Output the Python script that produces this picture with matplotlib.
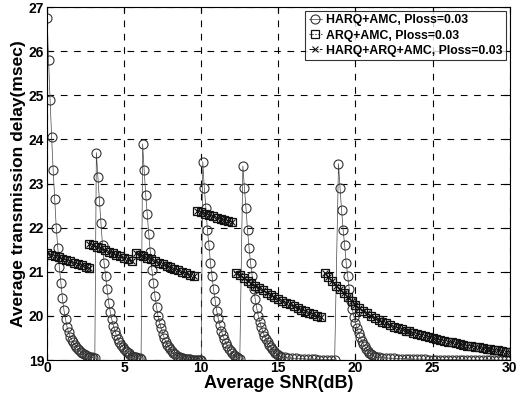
import numpy as np
import matplotlib
matplotlib.use("Agg")
import matplotlib.pyplot as plt

plt.rcParams["font.family"] = ["Liberation Sans", "DejaVu Sans"]

# HARQ+AMC: (start SNR, SNR step, delay values)
harq_segments = [
    (0.0, 0.1, [26.75, 25.8, 24.9, 24.05, 23.3, 22.65, 22.0, 21.55, 21.1, 20.75,
                20.4, 20.13, 19.93, 19.75, 19.63, 19.53, 19.46, 19.4, 19.35, 19.3,
                19.26, 19.22, 19.19, 19.16, 19.14, 19.12, 19.1, 19.08, 19.07, 19.06,
                19.05, 19.04]),
    (3.2, 0.1, [23.7, 23.15, 22.6, 22.1, 21.6, 21.2, 20.9, 20.6, 20.3, 20.1,
                19.92, 19.78, 19.66, 19.56, 19.48, 19.41, 19.35, 19.3, 19.25, 19.21,
                19.18, 19.15, 19.12, 19.1, 19.08, 19.07, 19.06, 19.05, 19.04, 19.03]),
    (6.2, 0.1, [23.9, 23.3, 22.75, 22.3, 21.85, 21.45, 21.05, 20.75, 20.45, 20.2,
                20.0, 19.85, 19.72, 19.6, 19.5, 19.42, 19.35, 19.29, 19.24, 19.2,
                19.16, 19.13, 19.1, 19.08, 19.06, 19.05, 19.04, 19.03, 19.03, 19.02,
                19.02, 19.02, 19.01, 19.01, 19.01, 19.01, 19.0, 19.0, 19.0]),
    (10.1, 0.1, [23.5, 22.9, 22.45, 21.95, 21.6, 21.2, 20.9, 20.6, 20.35, 20.12,
                 19.95, 19.8, 19.67, 19.56, 19.47, 19.39, 19.32, 19.26, 19.21, 19.16,
                 19.12, 19.09, 19.06, 19.04, 19.02]),
    (12.7, 0.1, [23.4, 22.9, 22.45, 21.95, 21.55, 21.2, 20.9, 20.62, 20.38, 20.17,
                 20.0, 19.86, 19.74, 19.64, 19.55, 19.47, 19.4, 19.34, 19.29, 19.24,
                 19.2, 19.17, 19.14, 19.11, 19.09, 19.07]),
    (15.4, 0.25, [19.06, 19.05, 19.04, 19.04, 19.03, 19.03, 19.02, 19.02, 19.02, 19.01,
                  19.01, 19.01, 19.01, 19.01]),
    (18.9, 0.1, [23.45, 22.9, 22.4, 21.95, 21.6, 21.2, 20.9, 20.6, 20.35, 20.15,
                 19.98, 19.84, 19.72, 19.61, 19.52, 19.44, 19.37, 19.31, 19.26, 19.21,
                 19.17, 19.14, 19.11, 19.09, 19.07]),
    (21.5, 0.25, [19.06, 19.05, 19.05, 19.04, 19.04, 19.03, 19.03, 19.03, 19.02, 19.02,
                  19.02, 19.02, 19.02, 19.01, 19.01, 19.01, 19.01, 19.01, 19.01, 19.01,
                  19.01, 19.0, 19.0, 19.0, 19.0, 19.0, 19.0, 19.0, 19.0, 19.0,
                  19.0, 19.0, 19.0, 19.0, 19.0]),
]

# ARQ+AMC (HARQ+ARQ+AMC lies on top of it in the picture)
arq_segments = [
    (0.0, 0.25, [21.42, 21.39, 21.36, 21.33, 21.30, 21.27, 21.24, 21.21, 21.18, 21.15,
                 21.12, 21.09]),
    (2.75, 0.25, [21.63, 21.60, 21.56, 21.53, 21.49, 21.46, 21.42, 21.39, 21.35, 21.32,
                  21.28, 21.25]),
    (5.75, 0.25, [21.42, 21.39, 21.35, 21.32, 21.28, 21.25, 21.21, 21.18, 21.14, 21.11,
                  21.07, 21.04, 21.00, 20.97, 20.93, 20.90]),
    (9.75, 0.25, [22.38, 22.35, 22.32, 22.29, 22.26, 22.23, 22.20, 22.18, 22.15, 22.13]),
    (12.25, 0.25, [20.98, 20.92, 20.86, 20.80, 20.74, 20.68, 20.63, 20.58, 20.53, 20.48,
                   20.43, 20.39, 20.35, 20.30, 20.26, 20.22, 20.18, 20.14, 20.11, 20.07,
                   20.04, 20.00, 19.97]),
    (18.0, 0.25, [20.98, 20.88, 20.79, 20.69, 20.60, 20.51, 20.42, 20.33, 20.25, 20.18,
                  20.12, 20.06, 20.00, 19.95, 19.91, 19.87, 19.83, 19.80, 19.76, 19.73,
                  19.70, 19.67, 19.65, 19.62, 19.60, 19.57, 19.55, 19.52, 19.50, 19.48,
                  19.46, 19.44, 19.42, 19.40, 19.38, 19.37, 19.35, 19.33, 19.32, 19.30,
                  19.29, 19.27, 19.26, 19.24, 19.23, 19.22, 19.20, 19.19, 19.18]),
]

labels = ["HARQ+AMC, Ploss=0.03", "ARQ+AMC, Ploss=0.03", "HARQ+ARQ+AMC, Ploss=0.03"]


def unpack(segments):
    xs, ys = [], []
    for start, step, vals in segments:
        xs.append(start + step * np.arange(len(vals)))
        ys.append(np.array(vals))
    return np.concatenate(xs), np.concatenate(ys)


harq_x, harq_y = unpack(harq_segments)

fig = plt.figure(figsize=(5.24, 3.97), dpi=100)
ax = fig.add_axes([0.0897, 0.093, 0.883, 0.889])

ax.plot(harq_x, harq_y, "-o", color="#444444", lw=0.5, ms=6.5,
        mfc="none", mec="#333333", mew=0.8, label=labels[0])
# ARQ bands drawn per segment (no connecting jumps)
first = True
for start, step, vals in arq_segments:
    x = start + step * np.arange(len(vals))
    ax.plot(x, vals, ":s", color="#111111", lw=0.8, ms=5.5, mfc="none",
            mec="#111111", mew=0.9, label=labels[1] if first else None)
    ax.plot(x, vals, "-.x", color="#111111", lw=0.7, ms=5, mew=0.8,
            label=labels[2] if first else None)
    first = False

ax.set_xlim(0, 30)
ax.set_ylim(19, 27)
ax.set_xticks(np.arange(0, 31, 5))
ax.set_yticks(np.arange(19, 28, 1))
ax.grid(True, color="black", linestyle=(0, (6, 6)), linewidth=0.8)
ax.tick_params(direction="in", top=True, right=True, length=4, labelsize=10)
ax.tick_params(axis="x", pad=1)
ax.tick_params(axis="y", pad=2)
for lab in ax.get_xticklabels() + ax.get_yticklabels():
    lab.set_fontweight("bold")
for sp in ax.spines.values():
    sp.set_linewidth(0.8)

ax.set_xlabel("Average SNR(dB)", fontsize=13, fontweight="bold", labelpad=0)
ax.set_ylabel("Average transmission delay(msec)", fontsize=12.5, fontweight="bold", labelpad=2)

leg = ax.legend(loc="upper right", prop={"weight": "bold", "size": 8.8},
                frameon=True, fancybox=False, borderaxespad=0.3, handlelength=1.1,
                handletextpad=0.3, labelspacing=0.25, borderpad=0.3)
leg.get_frame().set_edgecolor("black")
leg.get_frame().set_linewidth(0.8)

fig.savefig("out.png", dpi=100)
